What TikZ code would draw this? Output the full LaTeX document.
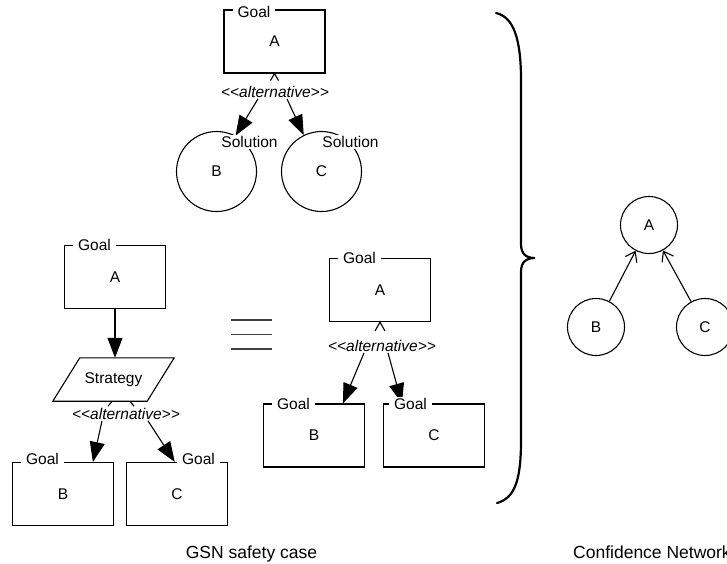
\documentclass[tikz,border=0pt]{standalone}
\usepackage{fontspec}
\setmainfont{Liberation Sans}
\usetikzlibrary{arrows.meta}
\newcommand\gsnlab{\fontsize{15.5}{18}\selectfont}
\newcommand\gsncap{\fontsize{17.5}{20}\selectfont}
\newcommand\gsnalt{<\kern0pt<alternative>\kern0pt>}
\begin{document}
\begin{tikzpicture}[x=1pt,y=-1pt,
  goalbox/.style={draw, line width=1.1pt, fill=white, minimum width=101pt, minimum height=63pt, inner sep=0pt, font=\gsnlab},
  goallab/.style={fill=white, inner xsep=5pt, inner ysep=1pt, font=\gsnlab},
  solbox/.style={circle, draw, line width=1.1pt, fill=white, minimum size=80pt, inner sep=0pt, font=\gsnlab},
  sollab/.style={fill=white, inner sep=1pt, font=\gsnlab},
  altlab/.style={inner sep=1pt, font=\gsnlab\itshape},
  garrow/.style={line width=1.1pt, -{Triangle[length=20pt,width=15pt]}},
  tickline/.style={line width=1.1pt},
  cnode/.style={circle, draw, line width=1.1pt, minimum size=57pt, inner sep=0pt, font=\gsnlab},
  carrow/.style={line width=1.1pt, -{Straight Barb[length=9pt,width=13pt]}},
  captext/.style={font=\gsncap, inner sep=0pt},
  strat/.style={minimum width=121pt, minimum height=43pt, inner sep=0pt, font=\gsnlab},
  eqline/.style={line width=1.5pt, black!75},
  bracepath/.style={line width=2.2pt, line cap=round}
]
\useasboundingbox (0,0) rectangle (727,563);

% ---------- top: Goal A with two solutions ----------
\node[goalbox] (gA1) at (274.5,41.5) {A};
\node[altlab] (alt1) at (275,92) {\gsnalt};
\draw[tickline] ([xshift=-4pt,yshift=-7pt]gA1.south) -- (gA1.south) -- ([xshift=4pt,yshift=-7pt]gA1.south);
\node[solbox] (sB) at (216.5,171.5) {B};
\node[solbox] (sC) at (321.5,171.5) {C};
\draw[garrow] ([xshift=-17pt]alt1.south) -- (sB.62);
\draw[garrow] ([xshift=12pt]alt1.south) -- (sC.116);
\node[goallab, anchor=base west] (gA1l) at ([xshift=9pt,yshift=-8pt]gA1.north west) {Goal};
\node[sollab] (sBl) at (249.5,142) {Solution};
\node[sollab] (sCl) at (350.5,142) {Solution};

% ---------- lower left: Goal A, strategy, goals B and C ----------
\node[goalbox] (gA2) at (115,277) {A};
\node[strat] (st) at (113.5,379.5) {};
\draw[tickline] ([xshift=-5.5pt,yshift=-5pt]st.south) -- ([xshift=7.5pt,yshift=11pt]st.south) -- ([xshift=20.5pt,yshift=-5pt]st.south);
\draw[line width=1.1pt, fill=white] (st.south west) -- ([xshift=27pt]st.north west) -- (st.north east) -- ([xshift=-27pt]st.south east) -- cycle;
\node[font=\gsnlab, inner sep=0pt] (stt) at (st.center) {Strategy};
\draw[garrow] (gA2.south) -- (gA2.south |- st.north);
\node[altlab] (alt2) at (126,414) {\gsnalt};
\node[goalbox] (gB2) at (63,494) {B};
\node[goalbox] (gC2) at (177,494) {C};
\draw[garrow] ([xshift=-24pt]alt2.south) -- (gB2.47);
\draw[garrow] ([xshift=22pt]alt2.south) -- (gC2.94);
\node[goallab, anchor=base west] (gA2l) at ([xshift=9pt,yshift=-6pt]gA2.north west) {Goal};
\node[goallab, anchor=base west] (gB2l) at ([xshift=9pt,yshift=-3pt]gB2.north west) {Goal};
\node[goallab, anchor=base east] (gC2l) at ([xshift=-8pt,yshift=-3pt]gC2.north east) {Goal};

% ---------- equivalence sign ----------
\draw[eqline] (231,320) -- (272,320);
\draw[eqline] (231,334.5) -- (272,334.5);
\draw[eqline] (231,349) -- (272,349);

% ---------- middle: Goal A with goals B and C ----------
\node[goalbox] (gA3) at (380,290) {A};
\draw[tickline] ([xshift=-5pt,yshift=-9pt]gA3.south) -- (gA3.south) -- ([xshift=5pt,yshift=-9pt]gA3.south);
\node[altlab] (alt3) at (382,346) {\gsnalt};
\node[goalbox] (gB3) at (314,435.5) {B};
\node[goalbox] (gC3) at (434,435.5) {C};
\draw[garrow] ([xshift=-18pt]alt3.south) -- (gB3.48);
\draw[garrow] ([xshift=6pt]alt3.south) -- (gC3.135);
\node[goallab, anchor=base west] (gA3l) at ([xshift=9pt,yshift=-6pt]gA3.north west) {Goal};
\node[goallab, anchor=base west] (gB3l) at ([xshift=9pt,yshift=-6pt]gB3.north west) {Goal};
\node[goallab, anchor=base west] (gC3l) at ([xshift=6pt,yshift=-6pt]gC3.north west) {Goal};

% ---------- brace ----------
\draw[bracepath] (496,13) .. controls (514,17) and (521,40) .. (521,80)
  -- (521,244) .. controls (521,254) and (526,258) .. (535,258)
  .. controls (526,258) and (521,262) .. (521,272)
  -- (521,440) .. controls (521,480) and (515,498) .. (497,503);

% ---------- confidence network ----------
\node[cnode] (cA) at (649,225) {A};
\node[cnode] (cB) at (596,327) {B};
\node[cnode] (cC) at (705,327) {C};
\draw[carrow] (cB) -- (cA);
\draw[carrow] (cC) -- (cA);

% ---------- captions ----------
\node[captext, anchor=base] (cap1) at (251.5,558) {GSN safety case};
\node[captext, anchor=base west] (cap2) at (573,558) {Confidence Network};
\end{tikzpicture}
\end{document}
